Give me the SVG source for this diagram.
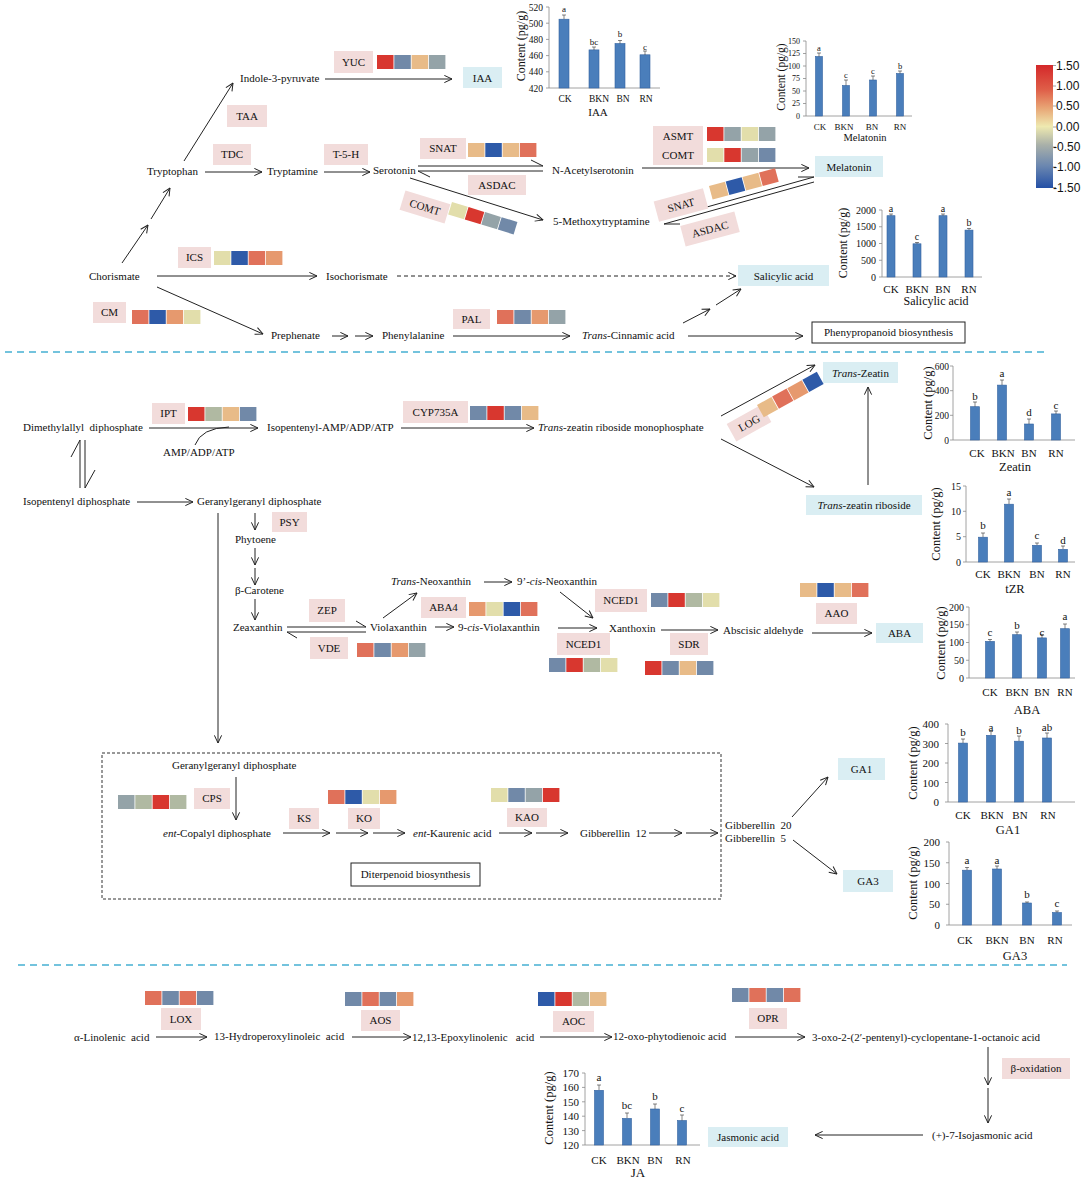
<svg xmlns="http://www.w3.org/2000/svg" width="1084" height="1181" viewBox="0 0 1084 1181" font-family="'Liberation Serif','Times New Roman',serif" font-size="11">
<defs>
<marker id="a" viewBox="0 0 10 10" refX="9.5" refY="5" markerWidth="9" markerHeight="9" markerUnits="userSpaceOnUse" orient="auto"><path d="M1,1 L9.5,5 L1,9" fill="none" stroke="#222" stroke-width="1.1"/></marker>
<linearGradient id="cb" x1="0" y1="0" x2="0" y2="1">
<stop offset="0" stop-color="#d4282a"/><stop offset="0.2" stop-color="#df5e48"/><stop offset="0.35" stop-color="#e8a575"/><stop offset="0.5" stop-color="#eee9b0"/><stop offset="0.65" stop-color="#a9b0a9"/><stop offset="0.82" stop-color="#6b87b0"/><stop offset="1" stop-color="#2450a6"/>
</linearGradient>
<style>
text{fill:#111}
.e{fill:#f2dcdb}
.p{fill:#daeef3}
.ln{stroke:#222;stroke-width:1;fill:none}
.ar{stroke:#222;stroke-width:1;fill:none;marker-end:url(#a)}
.ax{stroke:#8a8a8a;stroke-width:0.8;fill:none}
.bar{fill:#4a7ebb;stroke:#3463a0;stroke-width:0.6}
.eb{stroke:#333;stroke-width:0.6;fill:none}
.sep{stroke:#45b0d2;stroke-width:1.6;stroke-dasharray:7,5}
.R{fill:#d8372f}.B{fill:#2e5aa8}.S{fill:#e0715a}.L{fill:#e6996e}.O{fill:#e8bb88}.Y{fill:#e2deab}.GB{fill:#7189a8}.G{fill:#94a3a8}.GG{fill:#b0b9a2}
.m{text-anchor:middle}
.r{text-anchor:end}
.sans{font-family:"Liberation Sans",Arial,sans-serif}
</style>
</defs>

<!-- separators -->
<line class="sep" x1="5" y1="352" x2="1048" y2="352"/>
<line class="sep" x1="18" y1="965" x2="1067" y2="965"/>

<!-- connectors -->
<g id="connectors">
<line class="ar" x1="325" y1="79" x2="452" y2="79"/>
<line class="ar" x1="184" y1="161" x2="233" y2="83"/>
<line class="ar" x1="205" y1="172" x2="262" y2="172"/>
<line class="ar" x1="324" y1="172" x2="370" y2="172"/>
<line class="ar" x1="122" y1="263" x2="148" y2="225"/>
<line class="ar" x1="151" y1="219" x2="170" y2="188"/>
<line class="ar" x1="157" y1="276" x2="317" y2="276"/>
<line class="ar" x1="397" y1="276" x2="736" y2="276" stroke-dasharray="4,3"/>
<line class="ar" x1="157" y1="287" x2="263" y2="334"/>
<line class="ar" x1="332" y1="336" x2="348" y2="336"/>
<line class="ar" x1="355" y1="336" x2="373" y2="336"/>
<line class="ar" x1="453" y1="336" x2="570" y2="336"/>
<line class="ar" x1="683" y1="323" x2="710" y2="309"/>
<line class="ar" x1="716" y1="305" x2="741" y2="289"/>
<line class="ar" x1="688" y1="336" x2="803" y2="336"/>
<line class="ar" x1="410" y1="178" x2="543" y2="220"/>
<line class="ar" x1="642" y1="168" x2="809" y2="168"/>
<path class="ln" d="M418,166H543L531,160 M418,171H543 M418,171L430,177"/>
<path class="ln" d="M664,219L814,177H798 M664,224L814,182 M664,224H680"/>
<line class="ar" x1="149" y1="428" x2="258" y2="428"/>
<path class="ln" d="M195,445Q201,428 229,427"/>
<line class="ar" x1="401" y1="428" x2="534" y2="428"/>
<line class="ar" x1="721" y1="416" x2="815" y2="365"/>
<line class="ar" x1="721" y1="439" x2="814" y2="487"/>
<line class="ar" x1="868" y1="485" x2="868" y2="387"/>
<path class="ln" d="M80,488V440L71,457 M85,440V488L95,470"/>
<line class="ar" x1="137" y1="502" x2="193" y2="502"/>
<line class="ar" x1="218" y1="513" x2="218" y2="743"/>
<line class="ar" x1="255" y1="513" x2="255" y2="530"/>
<line class="ar" x1="255" y1="548" x2="255" y2="565"/>
<line class="ar" x1="255" y1="568" x2="255" y2="585"/>
<line class="ar" x1="255" y1="599" x2="255" y2="620"/>
<path class="ln" d="M287,627H366L356,621 M287,632H366 M287,632L297,638"/>
<line class="ar" x1="383" y1="618" x2="417" y2="593"/>
<line class="ar" x1="484" y1="582" x2="512" y2="582"/>
<line class="ar" x1="435" y1="627" x2="454" y2="627"/>
<line class="ar" x1="560" y1="592" x2="593" y2="618"/>
<line class="ar" x1="558" y1="628" x2="597" y2="628"/>
<line class="ar" x1="661" y1="630" x2="718" y2="630"/>
<line class="ar" x1="812" y1="633" x2="872" y2="633"/>
<line class="ar" x1="236" y1="777" x2="236" y2="820"/>
<line class="ar" x1="283" y1="833" x2="330" y2="833"/>
<line class="ar" x1="336" y1="833" x2="368" y2="833"/>
<line class="ar" x1="373" y1="833" x2="405" y2="833"/>
<line class="ar" x1="499" y1="833" x2="532" y2="833"/>
<line class="ar" x1="536" y1="833" x2="568" y2="833"/>
<line class="ar" x1="649" y1="833" x2="682" y2="833"/>
<line class="ar" x1="686" y1="833" x2="718" y2="833"/>
<line class="ar" x1="792" y1="817" x2="828" y2="777"/>
<line class="ar" x1="793" y1="840" x2="837" y2="874"/>
<line class="ar" x1="156" y1="1037" x2="207" y2="1037"/>
<line class="ar" x1="352" y1="1037" x2="411" y2="1037"/>
<line class="ar" x1="540" y1="1037" x2="612" y2="1037"/>
<line class="ar" x1="735" y1="1037" x2="805" y2="1037"/>
<line class="ar" x1="988" y1="1047" x2="988" y2="1085"/>
<line class="ar" x1="988" y1="1088" x2="988" y2="1123"/>
<line class="ar" x1="923" y1="1135" x2="815" y2="1135"/>
</g>

<!-- boxes -->
<rect x="102" y="753" width="619" height="146" fill="none" stroke="#333" stroke-width="1" stroke-dasharray="3,2"/>
<g id="box-phenyl"><rect x="812" y="322" width="153" height="21" fill="#fff" stroke="#222"/><text class="m" x="888.5" y="336">Phenypropanoid biosynthesis</text></g>
<g id="box-diterp"><rect x="351" y="863" width="129" height="23" fill="#fff" stroke="#222"/><text class="m" x="415.5" y="878">Diterpenoid biosynthesis</text></g>

<!-- metabolites -->
<g id="metabolites">
<text x="240" y="82">Indole-3-pyruvate</text>
<text x="147" y="175">Tryptophan</text>
<text x="267" y="175">Tryptamine</text>
<text x="373" y="174">Serotonin</text>
<text x="552" y="174">N-Acetylserotonin</text>
<text x="553" y="225">5-Methoxytryptamine</text>
<text x="89" y="280">Chorismate</text>
<text x="326" y="280">Isochorismate</text>
<text x="271" y="339">Prephenate</text>
<text x="382" y="339">Phenylalanine</text>
<text x="582" y="339"><tspan font-style="italic">Trans</tspan>-Cinnamic acid</text>
<text x="23" y="431" xml:space="preserve">Dimethylallyl  diphosphate</text>
<text x="267" y="431">Isopentenyl-AMP/ADP/ATP</text>
<text x="163" y="456">AMP/ADP/ATP</text>
<text x="538" y="431"><tspan font-style="italic">Trans</tspan>-zeatin riboside monophosphate</text>
<text x="23" y="505">Isopentenyl diphosphate</text>
<text x="197" y="505">Geranylgeranyl diphosphate</text>
<text x="235" y="543">Phytoene</text>
<text x="235" y="594">β-Carotene</text>
<text x="233" y="631">Zeaxanthin</text>
<text x="370" y="631">Violaxanthin</text>
<text x="391" y="585"><tspan font-style="italic">Trans</tspan>-Neoxanthin</text>
<text x="517" y="585">9’-<tspan font-style="italic">cis</tspan>-Neoxanthin</text>
<text x="458" y="631">9-<tspan font-style="italic">cis</tspan>-Violaxanthin</text>
<text x="609" y="632">Xanthoxin</text>
<text x="723" y="634">Abscisic aldehyde</text>
<text x="172" y="769">Geranylgeranyl diphosphate</text>
<text x="163" y="837"><tspan font-style="italic">ent</tspan>-Copalyl diphosphate</text>
<text x="413" y="837"><tspan font-style="italic">ent</tspan>-Kaurenic acid</text>
<text x="580" y="837" xml:space="preserve">Gibberellin  12</text>
<text x="725" y="829" xml:space="preserve">Gibberellin  20</text>
<text x="725" y="842" xml:space="preserve">Gibberellin  5</text>
<text x="74" y="1041" xml:space="preserve">α-Linolenic  acid</text>
<text x="214" y="1040" xml:space="preserve">13-Hydroperoxylinoleic  acid</text>
<text x="412" y="1041" xml:space="preserve">12,13-Epoxylinolenic   acid</text>
<text x="613" y="1040">12-oxo-phytodienoic acid</text>
<text x="812" y="1041">3-oxo-2-(2′-pentenyl)-cyclopentane-1-octanoic acid</text>
<text x="932" y="1139">(+)-7-Isojasmonic acid</text>
</g>

<!-- products -->
<g id="p-iaa"><rect class="p" x="463" y="67" width="39" height="21"/><text class="m" x="482.5" y="82">IAA</text></g>
<g id="p-melatonin"><rect class="p" x="815" y="156" width="68" height="21"/><text class="m" x="849" y="171">Melatonin</text></g>
<g id="p-sa"><rect class="p" x="738" y="265" width="91" height="21"/><text class="m" x="783.5" y="280">Salicylic acid</text></g>
<g id="p-tz"><rect class="p" x="823" y="362" width="75" height="21"/><text class="m" x="860.5" y="377"><tspan font-style="italic">Trans</tspan>-Zeatin</text></g>
<g id="p-tzr"><rect class="p" x="806" y="495" width="116" height="20"/><text class="m" x="864" y="509"><tspan font-style="italic">Trans</tspan>-zeatin riboside</text></g>
<g id="p-aba"><rect class="p" x="876" y="623" width="47" height="20"/><text class="m" x="899.5" y="637">ABA</text></g>
<g id="p-ga1"><rect class="p" x="838" y="758" width="47" height="22"/><text class="m" x="861.5" y="773">GA1</text></g>
<g id="p-ga3"><rect class="p" x="843" y="870" width="50" height="22"/><text class="m" x="868" y="885">GA3</text></g>
<g id="p-ja"><rect class="p" x="708" y="1127" width="80" height="20"/><text class="m" x="748" y="1141">Jasmonic acid</text></g>

<!-- enzymes -->
<g id="enzymes">
<g id="e-yuc"><rect class="e" x="334" y="51" width="39" height="22"/><text class="m" x="353.5" y="66">YUC</text></g>
<g id="e-taa"><rect class="e" x="227" y="105" width="40" height="22"/><text class="m" x="247" y="120">TAA</text></g>
<g id="e-tdc"><rect class="e" x="213" y="144" width="38" height="21"/><text class="m" x="232" y="158">TDC</text></g>
<g id="e-t5h"><rect class="e" x="324" y="144" width="44" height="21"/><text class="m" x="346" y="158">T-5-H</text></g>
<g id="e-snat"><rect class="e" x="420" y="138" width="46" height="21"/><text class="m" x="443" y="152">SNAT</text></g>
<g id="e-asdac"><rect class="e" x="468" y="175" width="58" height="20"/><text class="m" x="497" y="189">ASDAC</text></g>
<g id="e-asmt"><rect class="e" x="653" y="126" width="50" height="39"/><text class="m" x="678" y="140">ASMT</text><text class="m" x="678" y="159">COMT</text></g>
<g id="e-comt2" transform="translate(425,207) rotate(17)"><rect class="e" x="-23.5" y="-10" width="47" height="20"/><text class="m" x="0" y="4">COMT</text></g>
<g id="e-snat2" transform="translate(681,205) rotate(-15)"><rect class="e" x="-25.5" y="-10.5" width="51" height="21"/><text class="m" x="0" y="4">SNAT</text></g>
<g id="e-asdac2" transform="translate(710,229) rotate(-15)"><rect class="e" x="-28" y="-10.5" width="56" height="21"/><text class="m" x="0" y="4">ASDAC</text></g>
<g id="e-ics"><rect class="e" x="178" y="247" width="33" height="21"/><text class="m" x="194.5" y="261">ICS</text></g>
<g id="e-cm"><rect class="e" x="93" y="302" width="33" height="21"/><text class="m" x="109.5" y="316">CM</text></g>
<g id="e-pal"><rect class="e" x="453" y="309" width="37" height="20"/><text class="m" x="471.5" y="323">PAL</text></g>
<g id="e-ipt"><rect class="e" x="152" y="403" width="33" height="21"/><text class="m" x="168.5" y="417">IPT</text></g>
<g id="e-cyp"><rect class="e" x="403" y="401" width="65" height="22"/><text class="m" x="435.5" y="416">CYP735A</text></g>
<g id="e-log" transform="translate(749,423) rotate(-29)"><rect class="e" x="-20" y="-10" width="40" height="20"/><text class="m" x="0" y="4">LOG</text></g>
<g id="e-psy"><rect class="e" x="272" y="512" width="35" height="20"/><text class="m" x="289.5" y="526">PSY</text></g>
<g id="e-zep"><rect class="e" x="309" y="599" width="36" height="23"/><text class="m" x="327" y="614">ZEP</text></g>
<g id="e-vde"><rect class="e" x="310" y="637" width="38" height="22"/><text class="m" x="329" y="652">VDE</text></g>
<g id="e-aba4"><rect class="e" x="421" y="597" width="45" height="21"/><text class="m" x="443.5" y="611">ABA4</text></g>
<g id="e-nced1a"><rect class="e" x="595" y="589" width="52" height="23"/><text class="m" x="621" y="604">NCED1</text></g>
<g id="e-nced1b"><rect class="e" x="557" y="633" width="53" height="22"/><text class="m" x="583.5" y="648">NCED1</text></g>
<g id="e-sdr"><rect class="e" x="670" y="633" width="38" height="22"/><text class="m" x="689" y="648">SDR</text></g>
<g id="e-aao"><rect class="e" x="816" y="603" width="41" height="21"/><text class="m" x="836.5" y="617">AAO</text></g>
<g id="e-cps"><rect class="e" x="194" y="788" width="36" height="21"/><text class="m" x="212" y="802">CPS</text></g>
<g id="e-ks"><rect class="e" x="289" y="808" width="30" height="21"/><text class="m" x="304" y="822">KS</text></g>
<g id="e-ko"><rect class="e" x="348" y="808" width="32" height="21"/><text class="m" x="364" y="822">KO</text></g>
<g id="e-kao"><rect class="e" x="507" y="808" width="40" height="19"/><text class="m" x="527" y="821">KAO</text></g>
<g id="e-lox"><rect class="e" x="161" y="1008" width="40" height="22"/><text class="m" x="181" y="1023">LOX</text></g>
<g id="e-aos"><rect class="e" x="361" y="1010" width="39" height="21"/><text class="m" x="380.5" y="1024">AOS</text></g>
<g id="e-aoc"><rect class="e" x="553" y="1011" width="41" height="21"/><text class="m" x="573.5" y="1025">AOC</text></g>
<g id="e-opr"><rect class="e" x="749" y="1008" width="38" height="21"/><text class="m" x="768" y="1022">OPR</text></g>
<g id="e-box"><rect class="e" x="1002" y="1058" width="68" height="21"/><text class="m" x="1036" y="1072">β-oxidation</text></g>
</g>

<!-- heatmaps -->
<g id="heatmaps">
<g transform="translate(377,55)"><rect class="R" width="16.5" height="14"/><rect class="GB" x="17.3" width="16.5" height="14"/><rect class="O" x="34.6" width="16.5" height="14"/><rect class="G" x="51.9" width="16.5" height="14"/></g>
<g transform="translate(707,127)"><rect class="R" width="16.5" height="14"/><rect class="G" x="17.3" width="16.5" height="14"/><rect class="Y" x="34.6" width="16.5" height="14"/><rect class="G" x="51.9" width="16.5" height="14"/></g>
<g transform="translate(707,148)"><rect class="Y" width="16.5" height="14"/><rect class="R" x="17.3" width="16.5" height="14"/><rect class="G" x="34.6" width="16.5" height="14"/><rect class="GB" x="51.9" width="16.5" height="14"/></g>
<g transform="translate(468,143)"><rect class="O" width="16.5" height="14"/><rect class="B" x="17.3" width="16.5" height="14"/><rect class="O" x="34.6" width="16.5" height="14"/><rect class="S" x="51.9" width="16.5" height="14"/></g>
<g transform="translate(452,202) rotate(17)"><rect class="Y" width="16.5" height="13"/><rect class="R" x="17.3" width="16.5" height="13"/><rect class="G" x="34.6" width="16.5" height="13"/><rect class="GB" x="51.9" width="16.5" height="13"/></g>
<g transform="translate(709,186) rotate(-15)"><rect class="O" width="16.5" height="14"/><rect class="B" x="17.3" width="16.5" height="14"/><rect class="O" x="34.6" width="16.5" height="14"/><rect class="S" x="51.9" width="16.5" height="14"/></g>
<g transform="translate(214,251)"><rect class="Y" width="16.5" height="14"/><rect class="B" x="17.3" width="16.5" height="14"/><rect class="S" x="34.6" width="16.5" height="14"/><rect class="L" x="51.9" width="16.5" height="14"/></g>
<g transform="translate(132,310)"><rect class="S" width="16.5" height="14"/><rect class="B" x="17.3" width="16.5" height="14"/><rect class="L" x="34.6" width="16.5" height="14"/><rect class="Y" x="51.9" width="16.5" height="14"/></g>
<g transform="translate(497,310)"><rect class="S" width="16.5" height="14"/><rect class="GB" x="17.3" width="16.5" height="14"/><rect class="L" x="34.6" width="16.5" height="14"/><rect class="G" x="51.9" width="16.5" height="14"/></g>
<g transform="translate(188,407)"><rect class="R" width="16.5" height="14"/><rect class="GG" x="17.3" width="16.5" height="14"/><rect class="O" x="34.6" width="16.5" height="14"/><rect class="GB" x="51.9" width="16.5" height="14"/></g>
<g transform="translate(470,406)"><rect class="GB" width="16.5" height="14"/><rect class="R" x="17.3" width="16.5" height="14"/><rect class="GB" x="34.6" width="16.5" height="14"/><rect class="O" x="51.9" width="16.5" height="14"/></g>
<g transform="translate(757,405) rotate(-29)"><rect class="O" width="16.5" height="14"/><rect class="S" x="17.3" width="16.5" height="14"/><rect class="L" x="34.6" width="16.5" height="14"/><rect class="B" x="51.9" width="16.5" height="14"/></g>
<g transform="translate(469,602)"><rect class="L" width="16.5" height="14"/><rect class="Y" x="17.3" width="16.5" height="14"/><rect class="B" x="34.6" width="16.5" height="14"/><rect class="S" x="51.9" width="16.5" height="14"/></g>
<g transform="translate(651,593)"><rect class="GB" width="16.5" height="14"/><rect class="R" x="17.3" width="16.5" height="14"/><rect class="GG" x="34.6" width="16.5" height="14"/><rect class="Y" x="51.9" width="16.5" height="14"/></g>
<g transform="translate(549,658)"><rect class="GB" width="16.5" height="14"/><rect class="R" x="17.3" width="16.5" height="14"/><rect class="GG" x="34.6" width="16.5" height="14"/><rect class="Y" x="51.9" width="16.5" height="14"/></g>
<g transform="translate(645,661)"><rect class="R" width="16.5" height="14"/><rect class="GB" x="17.3" width="16.5" height="14"/><rect class="O" x="34.6" width="16.5" height="14"/><rect class="GB" x="51.9" width="16.5" height="14"/></g>
<g transform="translate(800,583)"><rect class="O" width="16.5" height="14"/><rect class="B" x="17.3" width="16.5" height="14"/><rect class="O" x="34.6" width="16.5" height="14"/><rect class="S" x="51.9" width="16.5" height="14"/></g>
<g transform="translate(357,643)"><rect class="S" width="16.5" height="14"/><rect class="GB" x="17.3" width="16.5" height="14"/><rect class="L" x="34.6" width="16.5" height="14"/><rect class="G" x="51.9" width="16.5" height="14"/></g>
<g transform="translate(118,795)"><rect class="G" width="16.5" height="14"/><rect class="GG" x="17.3" width="16.5" height="14"/><rect class="R" x="34.6" width="16.5" height="14"/><rect class="GG" x="51.9" width="16.5" height="14"/></g>
<g transform="translate(328,790)"><rect class="S" width="16.5" height="14"/><rect class="B" x="17.3" width="16.5" height="14"/><rect class="Y" x="34.6" width="16.5" height="14"/><rect class="L" x="51.9" width="16.5" height="14"/></g>
<g transform="translate(491,788)"><rect class="Y" width="16.5" height="14"/><rect class="GB" x="17.3" width="16.5" height="14"/><rect class="G" x="34.6" width="16.5" height="14"/><rect class="R" x="51.9" width="16.5" height="14"/></g>
<g transform="translate(145,991)"><rect class="S" width="16.5" height="14"/><rect class="GB" x="17.3" width="16.5" height="14"/><rect class="S" x="34.6" width="16.5" height="14"/><rect class="GB" x="51.9" width="16.5" height="14"/></g>
<g transform="translate(345,992)"><rect class="GB" width="16.5" height="14"/><rect class="S" x="17.3" width="16.5" height="14"/><rect class="GB" x="34.6" width="16.5" height="14"/><rect class="L" x="51.9" width="16.5" height="14"/></g>
<g transform="translate(538,992)"><rect class="B" width="16.5" height="14"/><rect class="R" x="17.3" width="16.5" height="14"/><rect class="GG" x="34.6" width="16.5" height="14"/><rect class="O" x="51.9" width="16.5" height="14"/></g>
<g transform="translate(732,988)"><rect class="GB" width="16.5" height="14"/><rect class="S" x="17.3" width="16.5" height="14"/><rect class="GB" x="34.6" width="16.5" height="14"/><rect class="S" x="51.9" width="16.5" height="14"/></g>
</g>

<!-- colour bar -->
<g id="colorbar">
<rect x="1036" y="65" width="17" height="123" fill="url(#cb)"/>
<path class="ax" d="M1053,65.5h3M1053,86h3M1053,106h3M1053,127h3M1053,147h3M1053,167h3M1053,187.5h3"/>
<text class="sans" x="1056" y="70" font-size="12">1.50</text>
<text class="sans" x="1056" y="90" font-size="12">1.00</text>
<text class="sans" x="1056" y="110" font-size="12">0.50</text>
<text class="sans" x="1056" y="131" font-size="12">0.00</text>
<text class="sans" x="1053" y="151" font-size="12">-0.50</text>
<text class="sans" x="1053" y="171" font-size="12">-1.00</text>
<text class="sans" x="1053" y="192" font-size="12">-1.50</text>
</g>

<!-- IAA chart -->
<g id="chart-iaa">
<text transform="translate(525,46) rotate(-90)" class="m" font-size="12">Content (pg/g)</text>
<path class="ax" d="M549,7V88H660M546,7H549M546,23.2H549M546,39.4H549M546,55.6H549M546,71.8H549M546,88H549"/>
<text class="r" x="543" y="10.5" font-size="9.5">520</text><text class="r" x="543" y="26.5" font-size="9.5">500</text><text class="r" x="543" y="43" font-size="9.5">480</text><text class="r" x="543" y="59" font-size="9.5">460</text><text class="r" x="543" y="75" font-size="9.5">440</text><text class="r" x="543" y="91.5" font-size="9.5">420</text>
<rect class="bar" x="559" y="19.2" width="10" height="68.8"/><rect class="bar" x="589" y="49.9" width="10" height="38.1"/><rect class="bar" x="615" y="43.5" width="10" height="44.5"/><rect class="bar" x="640" y="54.8" width="10" height="33.2"/>
<path class="eb" d="M564,19V15M562,15H566M594,50V47M592,47H596M620,43.5V40.5M618,40.5H622M645,55V51M643,51H647"/>
<text class="m" x="564" y="12" font-size="9">a</text><text class="m" x="594" y="45" font-size="9">bc</text><text class="m" x="620" y="37" font-size="9">b</text><text class="m" x="645" y="50" font-size="9">c</text>
<text class="m" x="565" y="102" font-size="9.5">CK</text><text class="m" x="599" y="102" font-size="9.5">BKN</text><text class="m" x="623" y="102" font-size="9.5">BN</text><text class="m" x="646" y="102" font-size="9.5">RN</text>
<text class="m" x="598" y="116" font-size="11">IAA</text>
</g>

<!-- Melatonin chart -->
<g id="chart-melatonin">
<text transform="translate(785,77) rotate(-90)" class="m" font-size="11.5">Content (pg/g)</text>
<path class="ax" d="M806,41V116H912M803,41H806M803,53.5H806M803,66H806M803,78.5H806M803,91H806M803,103.5H806M803,116H806"/>
<text class="r" x="800" y="43.5" font-size="8">150</text><text class="r" x="800" y="56" font-size="8">125</text><text class="r" x="800" y="68.5" font-size="8">100</text><text class="r" x="800" y="81" font-size="8">75</text><text class="r" x="800" y="93.5" font-size="8">50</text><text class="r" x="800" y="106" font-size="8">25</text><text class="r" x="800" y="118.5" font-size="8">0</text>
<rect class="bar" x="815.5" y="56.5" width="7" height="59.5"/><rect class="bar" x="842.5" y="85.5" width="7" height="30.5"/><rect class="bar" x="869.5" y="80" width="7" height="36"/><rect class="bar" x="896.5" y="73.5" width="7" height="42.5"/>
<path class="eb" d="M819,56.5V53M817,53H821M846,85.5V80M844,80H848M873,80V76M871,76H875M900,73.5V71M898,71H902"/>
<text class="m" x="819" y="51" font-size="8.5">a</text><text class="m" x="846" y="78" font-size="8.5">c</text><text class="m" x="873" y="74" font-size="8.5">c</text><text class="m" x="900" y="69" font-size="8.5">b</text>
<text class="m" x="820" y="130" font-size="9">CK</text><text class="m" x="844" y="130" font-size="9">BKN</text><text class="m" x="872" y="130" font-size="9">BN</text><text class="m" x="900" y="130" font-size="9">RN</text>
<text class="m" x="865" y="141" font-size="10.5">Melatonin</text>
</g>

<!-- Salicylic acid chart -->
<g id="chart-sa">
<text transform="translate(847,243) rotate(-90)" class="m" font-size="12">Content (pg/g)</text>
<path class="ax" d="M882,210V277H982M879,210H882M879,226.75H882M879,243.5H882M879,260.25H882M879,277H882"/>
<text class="r" x="876" y="213.5" font-size="10">2000</text><text class="r" x="876" y="230" font-size="10">1500</text><text class="r" x="876" y="247" font-size="10">1000</text><text class="r" x="876" y="263.5" font-size="10">500</text><text class="r" x="876" y="280.5" font-size="10">0</text>
<rect class="bar" x="887" y="215.7" width="8" height="61.3"/><rect class="bar" x="913" y="243.8" width="8" height="33.2"/><rect class="bar" x="939" y="215.7" width="8" height="61.3"/><rect class="bar" x="965" y="230.1" width="8" height="46.9"/>
<path class="eb" d="M891,215.7V214M889,214H893M917,243.8V242.5M915,242.5H919M943,215.7V214M941,214H945M969,230V228.5M967,228.5H971"/>
<text class="m" x="891" y="212" font-size="10">a</text><text class="m" x="917" y="240" font-size="10">c</text><text class="m" x="943" y="212" font-size="10">a</text><text class="m" x="969" y="226" font-size="10">b</text>
<text class="m" x="891" y="293" font-size="11">CK</text><text class="m" x="917" y="293" font-size="11">BKN</text><text class="m" x="943" y="293" font-size="11">BN</text><text class="m" x="969" y="293" font-size="11">RN</text>
<text class="m" x="936" y="305" font-size="12">Salicylic acid</text>
</g>

<!-- Zeatin chart -->
<g id="chart-zeatin">
<text transform="translate(932,403) rotate(-90)" class="m" font-size="12.5">Content (pg/g)</text>
<path class="ax" d="M953,366V440H1075M950,366H953M950,390.7H953M950,415.3H953M950,440H953"/>
<text class="r" x="949" y="369.5" font-size="9.5">600</text><text class="r" x="949" y="394" font-size="9.5">400</text><text class="r" x="949" y="418.5" font-size="9.5">200</text><text class="r" x="949" y="443.5" font-size="9.5">0</text>
<rect class="bar" x="970.5" y="406.7" width="9" height="33.3"/><rect class="bar" x="997.5" y="385.1" width="9" height="54.9"/><rect class="bar" x="1024.5" y="424" width="9" height="16"/><rect class="bar" x="1051.5" y="413.9" width="9" height="26.1"/>
<path class="eb" d="M975,406.7V402M973,402H977M1002,385V380M1000,380H1004M1029,424V419M1027,419H1031M1056,414V411M1054,411H1058"/>
<text class="m" x="975" y="400" font-size="11">b</text><text class="m" x="1002" y="377" font-size="11">a</text><text class="m" x="1029" y="416" font-size="11">d</text><text class="m" x="1056" y="409" font-size="11">c</text>
<text class="m" x="977" y="457" font-size="11">CK</text><text class="m" x="1003" y="457" font-size="11">BKN</text><text class="m" x="1029" y="457" font-size="11">BN</text><text class="m" x="1056" y="457" font-size="11">RN</text>
<text class="m" x="1015" y="471" font-size="12.5">Zeatin</text>
</g>

<!-- tZR chart -->
<g id="chart-tzr">
<text transform="translate(940,524) rotate(-90)" class="m" font-size="12.5">Content (pg/g)</text>
<path class="ax" d="M966,486V562H1075M963,486H966M963,511.3H966M963,536.7H966M963,562H966"/>
<text class="r" x="961" y="489.5" font-size="10">15</text><text class="r" x="961" y="515" font-size="10">10</text><text class="r" x="961" y="540" font-size="10">5</text><text class="r" x="961" y="565.5" font-size="10">0</text>
<rect class="bar" x="978.5" y="537.2" width="9" height="24.8"/><rect class="bar" x="1004.5" y="504.2" width="9" height="57.8"/><rect class="bar" x="1032.5" y="545.3" width="9" height="16.7"/><rect class="bar" x="1058.5" y="549.3" width="9" height="12.7"/>
<path class="eb" d="M983,537V533M981,533H985M1009,504V499M1007,499H1011M1037,545V543M1035,543H1039M1063,549V546M1061,546H1065"/>
<text class="m" x="983" y="529" font-size="11">b</text><text class="m" x="1009" y="496" font-size="11">a</text><text class="m" x="1037" y="539" font-size="11">c</text><text class="m" x="1063" y="544" font-size="11">d</text>
<text class="m" x="983" y="578" font-size="11">CK</text><text class="m" x="1009" y="578" font-size="11">BKN</text><text class="m" x="1037" y="578" font-size="11">BN</text><text class="m" x="1063" y="578" font-size="11">RN</text>
<text class="m" x="1015" y="593" font-size="12.5">tZR</text>
</g>

<!-- ABA chart -->
<g id="chart-aba">
<text transform="translate(945,643) rotate(-90)" class="m" font-size="12.5">Content (pg/g)</text>
<path class="ax" d="M969,607V678H1075M966,607H969M966,624.75H969M966,642.5H969M966,660.25H969M966,678H969"/>
<text class="r" x="964" y="610.5" font-size="10">200</text><text class="r" x="964" y="628" font-size="10">150</text><text class="r" x="964" y="646" font-size="10">100</text><text class="r" x="964" y="663.5" font-size="10">50</text><text class="r" x="964" y="681.5" font-size="10">0</text>
<rect class="bar" x="985.5" y="641.4" width="9" height="36.6"/><rect class="bar" x="1012.5" y="634.7" width="9" height="43.3"/><rect class="bar" x="1037.5" y="637.9" width="9" height="40.1"/><rect class="bar" x="1060.5" y="628.7" width="9" height="49.3"/>
<path class="eb" d="M990,641.4V639.5M988,639.5H992M1017,634.7V632M1015,632H1019M1042,638V634.5M1040,634.5H1044M1065,628.7V624M1063,624H1067"/>
<text class="m" x="990" y="636" font-size="11">c</text><text class="m" x="1017" y="629" font-size="11">b</text><text class="m" x="1042" y="636" font-size="11">c</text><text class="m" x="1065" y="620" font-size="11">a</text>
<text class="m" x="990" y="696" font-size="11">CK</text><text class="m" x="1017" y="696" font-size="11">BKN</text><text class="m" x="1042" y="696" font-size="11">BN</text><text class="m" x="1065" y="696" font-size="11">RN</text>
<text class="m" x="1027" y="714" font-size="12.5">ABA</text>
</g>

<!-- GA1 chart -->
<g id="chart-ga1">
<text transform="translate(917,763) rotate(-90)" class="m" font-size="12.5">Content (pg/g)</text>
<path class="ax" d="M948,724V802H1075M945,724H948M945,743.5H948M945,763H948M945,782.5H948M945,802H948"/>
<text class="r" x="939" y="728" font-size="11">400</text><text class="r" x="939" y="747.5" font-size="11">300</text><text class="r" x="939" y="767" font-size="11">200</text><text class="r" x="939" y="786.5" font-size="11">100</text><text class="r" x="939" y="806" font-size="11">0</text>
<rect class="bar" x="958.5" y="743.1" width="9" height="58.9"/><rect class="bar" x="986.5" y="735.3" width="9" height="66.7"/><rect class="bar" x="1014.5" y="741.2" width="9" height="60.8"/><rect class="bar" x="1042.5" y="738" width="9" height="64"/>
<path class="eb" d="M963,743V739M961,739H965M991,735V731.5M989,731.5H993M1019,741V736M1017,736H1021M1047,738V733M1045,733H1049"/>
<text class="m" x="963" y="736" font-size="11">b</text><text class="m" x="991" y="731" font-size="11">a</text><text class="m" x="1019" y="734" font-size="11">b</text><text class="m" x="1047" y="731" font-size="11">ab</text>
<text class="m" x="963" y="819" font-size="11">CK</text><text class="m" x="992" y="819" font-size="11">BKN</text><text class="m" x="1020" y="819" font-size="11">BN</text><text class="m" x="1048" y="819" font-size="11">RN</text>
<text class="m" x="1008" y="834" font-size="12.5">GA1</text>
</g>

<!-- GA3 chart -->
<g id="chart-ga3">
<text transform="translate(917,883) rotate(-90)" class="m" font-size="12.5">Content (pg/g)</text>
<path class="ax" d="M949,842V925H1072M946,842H949M946,862.75H949M946,883.5H949M946,904.25H949M946,925H949"/>
<text class="r" x="940" y="846" font-size="11">200</text><text class="r" x="940" y="866.5" font-size="11">150</text><text class="r" x="940" y="887.5" font-size="11">100</text><text class="r" x="940" y="908" font-size="11">50</text><text class="r" x="940" y="929" font-size="11">0</text>
<rect class="bar" x="962.5" y="870.2" width="9" height="54.8"/><rect class="bar" x="992.5" y="869" width="9" height="56"/><rect class="bar" x="1022.5" y="903" width="9" height="22"/><rect class="bar" x="1052.5" y="912.5" width="9" height="12.5"/>
<path class="eb" d="M967,870V867.5M965,867.5H969M997,869V866M995,866H999M1027,903V902M1025,902H1029M1057,912.5V911M1055,911H1059"/>
<text class="m" x="967" y="864" font-size="11">a</text><text class="m" x="997" y="864" font-size="11">a</text><text class="m" x="1027" y="898" font-size="11">b</text><text class="m" x="1057" y="907" font-size="11">c</text>
<text class="m" x="965" y="944" font-size="11">CK</text><text class="m" x="997" y="944" font-size="11">BKN</text><text class="m" x="1027" y="944" font-size="11">BN</text><text class="m" x="1055" y="944" font-size="11">RN</text>
<text class="m" x="1015" y="960" font-size="12.5">GA3</text>
</g>

<!-- JA chart -->
<g id="chart-ja">
<text transform="translate(553,1108) rotate(-90)" class="m" font-size="12.5">Content (pg/g)</text>
<path class="ax" d="M585,1073V1145H700M582,1073H585M582,1087.4H585M582,1101.8H585M582,1116.2H585M582,1130.6H585M582,1145H585"/>
<text class="r" x="579" y="1076.5" font-size="11">170</text><text class="r" x="579" y="1091" font-size="11">160</text><text class="r" x="579" y="1105.5" font-size="11">150</text><text class="r" x="579" y="1120" font-size="11">140</text><text class="r" x="579" y="1134.5" font-size="11">130</text><text class="r" x="579" y="1148.5" font-size="11">120</text>
<rect class="bar" x="594.5" y="1090.3" width="9" height="54.7"/><rect class="bar" x="622.5" y="1118.4" width="9" height="26.6"/><rect class="bar" x="650.5" y="1109" width="9" height="36"/><rect class="bar" x="677.5" y="1120.5" width="9" height="24.5"/>
<path class="eb" d="M599,1090V1085M597,1085H601M627,1118V1113M625,1113H629M655,1109V1104M653,1104H657M682,1120.5V1115M680,1115H684"/>
<text class="m" x="599" y="1081" font-size="11">a</text><text class="m" x="627" y="1109" font-size="11">bc</text><text class="m" x="655" y="1100" font-size="11">b</text><text class="m" x="682" y="1112" font-size="11">c</text>
<text class="m" x="599" y="1164" font-size="11">CK</text><text class="m" x="628" y="1164" font-size="11">BKN</text><text class="m" x="655" y="1164" font-size="11">BN</text><text class="m" x="683" y="1164" font-size="11">RN</text>
<text class="m" x="638" y="1177" font-size="13">JA</text>
</g>
</svg>
